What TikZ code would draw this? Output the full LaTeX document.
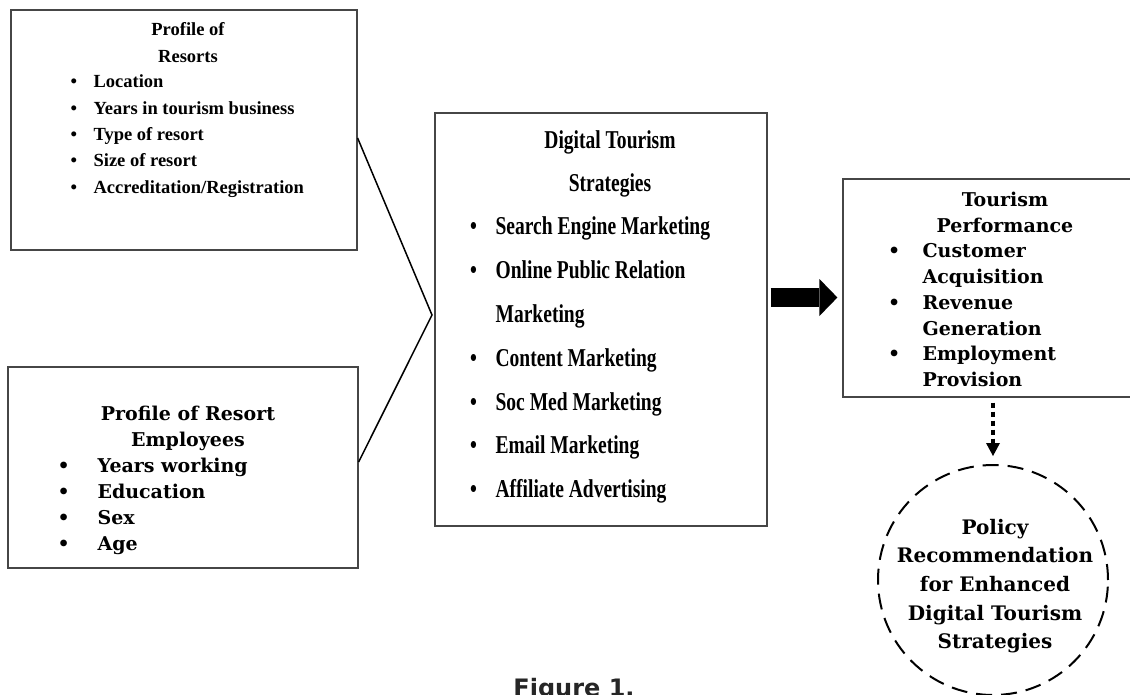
\documentclass[tikz,border=0pt]{standalone}
\usepackage{fontspec}
\usepackage{tikz}
\usetikzlibrary{arrows.meta}
\setmainfont{Liberation Serif}
\newfontfamily\stratfont{Liberation Serif}[FakeStretch=0.76]
\newfontfamily\wideserif{DejaVu Serif}
\newfontfamily\capfont{DejaVu Sans}
\definecolor{framegray}{RGB}{70,70,70}

\begin{document}
\begin{tikzpicture}[x=1pt, y=-1pt, line width=1.2pt,
	box/.style={draw=framegray, inner sep=0pt},
	txt/.style={inner sep=0pt, anchor=base},
	lst/.style={inner sep=0pt, anchor=base west},
	resortfont/.style={font=\bfseries\fontsize{18.5}{26.3}\selectfont},
	stratfontA/.style={font=\stratfont\bfseries\fontsize{25.7}{43}\selectfont},
	stratfontB/.style={font=\stratfont\bfseries\fontsize{25.7}{43.8}\selectfont},
	wide/.style={font=\wideserif\bfseries\fontsize{19}{#1}\selectfont}]
		\useasboundingbox (0,0) rectangle (1130,695);
		
		% boxes
		\node[box, minimum width=346pt, minimum height=240pt] (resorts) at (184,130) {};
		\node[box, minimum width=350pt, minimum height=201pt] (employees) at (183,467.5) {};
		\node[box, minimum width=332pt, minimum height=413pt] (strat) at (601,319.5) {};
		\node[box, minimum width=300pt, minimum height=218pt] (perf) at (993,288) {};
		\node[circle, draw, line width=2pt, dash pattern=on 16pt off 9pt, inner sep=0pt, minimum size=230pt] (policy) at (993,580) {};
		
		% profile of resorts
		\node[txt, resortfont] (resortstitle) at (188,36) {\begin{tabular}[t]{@{}c@{}}Profile of\\Resorts\end{tabular}};
		\node[lst, resortfont] (resortslist) at (70,88) {\begin{tabular}[t]{@{}l@{}l@{}}
			\makebox[23pt][l]{\textbullet} & Location\\
			\makebox[23pt][l]{\textbullet} & Years in tourism business\\
			\makebox[23pt][l]{\textbullet} & Type of resort\\
			\makebox[23pt][l]{\textbullet} & Size of resort\\
			\makebox[23pt][l]{\textbullet} & Accreditation/Registration
		\end{tabular}};
		
		% profile of employees
		\node[txt, wide=26.3] (emptitle) at (188,420) {\begin{tabular}[t]{@{}c@{}}Profile of Resort\\Employees\end{tabular}};
		\node[lst, wide=26.3] (emplist) at (57,472) {\begin{tabular}[t]{@{}l@{}l@{}}
			\makebox[40pt][l]{\textbullet} & Years working\\
			\makebox[40pt][l]{\textbullet} & Education\\
			\makebox[40pt][l]{\textbullet} & Sex\\
			\makebox[40pt][l]{\textbullet} & Age
		\end{tabular}};
		
		% strategies
		\node[txt, stratfontA] (strattitle) at (610,149) {\begin{tabular}[t]{@{}c@{}}Digital Tourism\\Strategies\end{tabular}};
		\node[lst, stratfontB] (stratlist) at (469.5,235) {\begin{tabular}[t]{@{}l@{}l@{}}
			\makebox[25.5pt][l]{\textbullet} & Search Engine Marketing\\
			\makebox[25.5pt][l]{\textbullet} & Online Public Relation\\
			 & Marketing\\
			\makebox[25.5pt][l]{\textbullet} & Content Marketing\\
			\makebox[25.5pt][l]{\textbullet} & Soc Med Marketing\\
			\makebox[25.5pt][l]{\textbullet} & Email Marketing\\
			\makebox[25.5pt][l]{\textbullet} & Affiliate Advertising
		\end{tabular}};
		
		% tourism performance
		\node[txt, wide=25.7] (perftitle) at (1005,207) {\begin{tabular}[t]{@{}c@{}}Tourism\\Performance\end{tabular}};
		\node[lst, wide=25.7] (perflist) at (887.5,258) {\begin{tabular}[t]{@{}l@{}l@{}}
			\makebox[34.5pt][l]{\textbullet} & Customer\\
			 & Acquisition\\
			\makebox[34.5pt][l]{\textbullet} & Revenue\\
			 & Generation\\
			\makebox[34.5pt][l]{\textbullet} & Employment\\
			 & Provision
		\end{tabular}};
		
		% policy
		\node[txt, font=\wideserif\bfseries\fontsize{20}{28.7}\selectfont] (policytext) at (995,534) {\begin{tabular}[t]{@{}c@{}}Policy\\Recommendation\\for Enhanced\\Digital Tourism\\Strategies\end{tabular}};
		
		% connectors
		\coordinate (apex) at (432,315);
		\draw[line width=1.5pt] ([yshift=-8pt]resorts.east) -- (apex) -- ([yshift=5.5pt]employees.east);
		\draw[line width=19pt, -{Triangle[length=18pt,width=37pt,line width=0pt]}, shorten <=3pt, shorten >=5pt] ([yshift=22pt]strat.east) -- ([yshift=-9.5pt]perf.west);
		\draw[line width=4pt, dash pattern=on 5pt off 4pt, -{Triangle[length=13pt,width=14pt,line width=0pt]}, shorten <=5pt, shorten >=8pt] (perf.south) -- (policy.north);
		
		\node[txt, font=\capfont\bfseries\fontsize{24}{28}\selectfont, text=black!85] (figcap) at (574,696) {Figure 1.};
		
	\end{tikzpicture}
\end{document}
